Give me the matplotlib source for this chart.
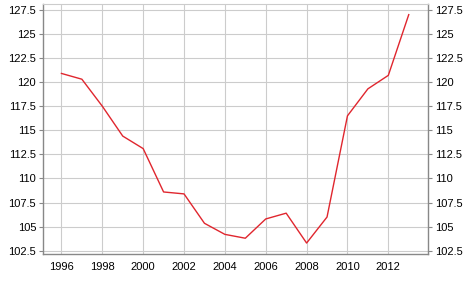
import numpy as np
import matplotlib
matplotlib.use('Agg')
import matplotlib.pyplot as plt
from matplotlib.ticker import FuncFormatter

years = [1996, 1997, 1998, 1999, 2000, 2001, 2002, 2003, 2004, 2005,
         2006, 2007, 2008, 2009, 2010, 2011, 2012, 2013]
values = [120.9, 120.3, 117.5, 114.4, 113.1, 108.6, 108.4, 105.35, 104.2, 103.8,
          105.8, 106.4, 103.3, 106.0, 116.5, 119.3, 120.7, 127.0]
x_ticks = [1996, 1998, 2000, 2002, 2004, 2006, 2008, 2010, 2012]
y_ticks = [102.5, 105, 107.5, 110, 112.5, 115, 117.5, 120, 122.5, 125, 127.5]

plt.rcParams['font.family'] = ['Liberation Sans', 'DejaVu Sans']

fig = plt.figure(figsize=(4.68, 2.89), dpi=100)
ax = fig.add_axes([0.092, 0.121, 0.822, 0.865])
ax.plot(years, values, color='#e0262e', linewidth=1.0)

ax.set_xlim(1995.1, 2013.93)
ax.set_ylim(102.16, 128.1)
ax.set_xticks(x_ticks)
ax.set_yticks(y_ticks)
ax.yaxis.set_major_formatter(FuncFormatter(lambda v, p: '%g' % v))
ax.grid(True, color='#cccccc', linewidth=0.8)
ax.set_axisbelow(True)

for s in ['left', 'bottom', 'right']:
    ax.spines[s].set_color('#888888')
    ax.spines[s].set_linewidth(1.0)
ax.spines['top'].set_color('#cccccc')
ax.spines['top'].set_linewidth(0.8)

ax.tick_params(axis='y', which='both', left=True, right=True, labelleft=True, labelright=True,
               length=3, color='#888888', labelsize=8, pad=2)
ax.tick_params(axis='x', length=0, labelsize=8, pad=6)

fig.savefig('out.png', dpi=100)
